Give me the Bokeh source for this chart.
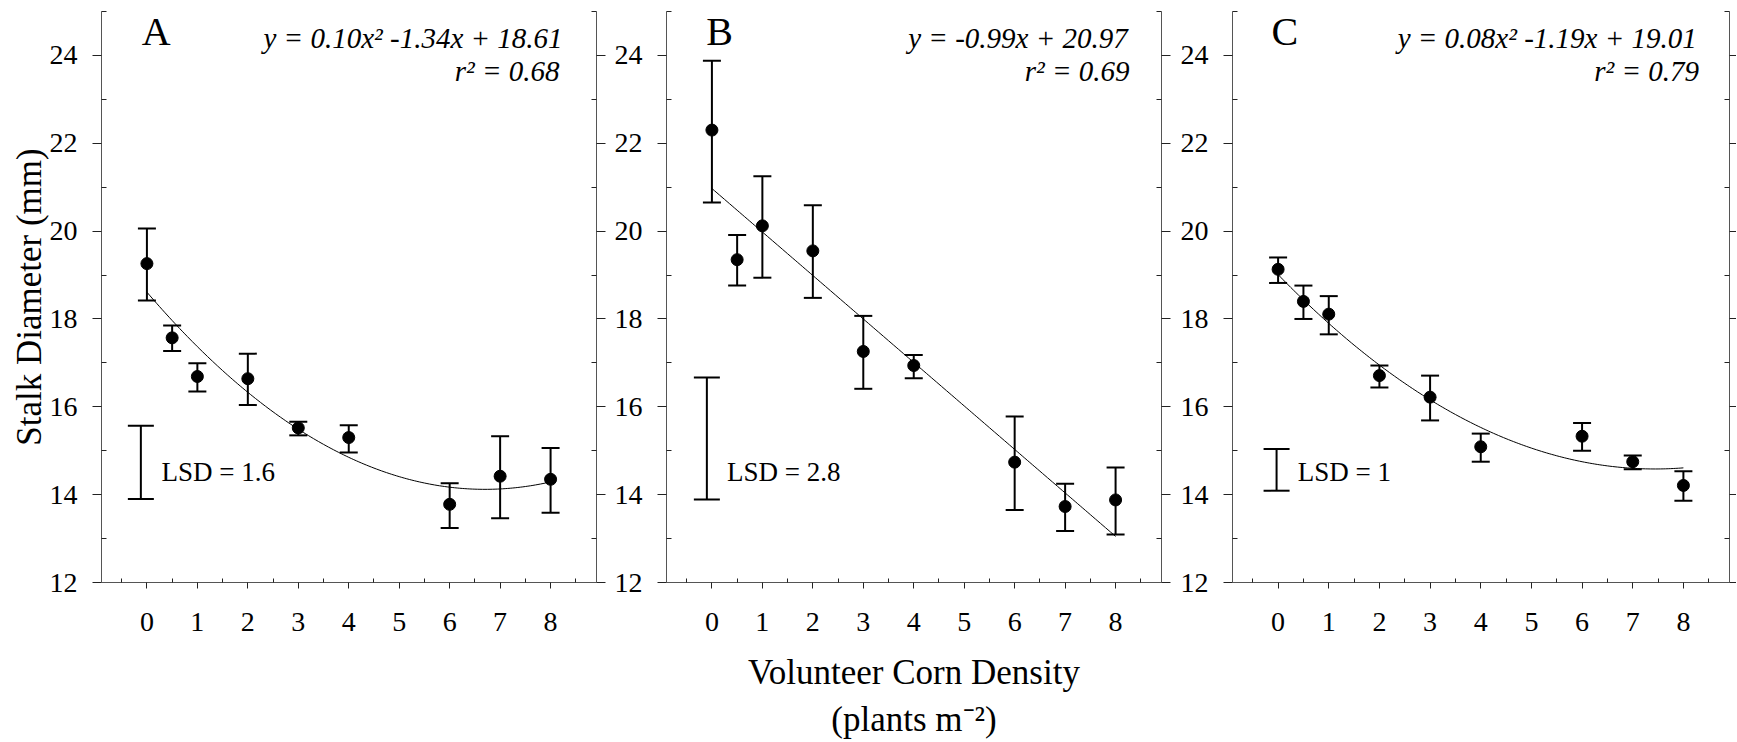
import numpy as np
from bokeh.plotting import figure
from bokeh.layouts import row
from bokeh.models import (ColumnDataSource, Whisker, TeeHead, Label, LinearAxis,
                          FixedTicker, Range1d)
from bokeh.embed import file_html
from bokeh.resources import INLINE

# ---------------- data ----------------
density = [0, 0.5, 1, 2, 3, 4, 6, 7, 8]
x_ticks = [0, 1, 2, 3, 4, 5, 6, 7, 8]
x_minor = [-0.5, 0.5, 1.5, 2.5, 3.5, 4.5, 5.5, 6.5, 7.5, 8.5]
y_ticks = [12, 14, 16, 18, 20, 22, 24]
y_minor = [13, 15, 17, 19, 21, 23, 25]

a_mean = [19.26, 17.57, 16.69, 16.64, 15.52, 15.30, 13.78, 14.42, 14.35]
a_upper = [20.06, 17.85, 16.99, 17.21, 15.66, 15.58, 14.26, 15.33, 15.06]
a_lower = [18.42, 17.27, 16.35, 16.04, 15.35, 14.96, 13.24, 13.46, 13.59]

b_mean = [22.30, 19.35, 20.12, 19.55, 17.26, 16.94, 14.74, 13.73, 13.88]
b_upper = [23.88, 19.91, 21.25, 20.59, 18.07, 17.18, 15.78, 14.25, 14.62]
b_lower = [20.65, 18.76, 18.94, 18.48, 16.41, 16.65, 13.65, 13.17, 13.09]

c_mean = [19.13, 18.40, 18.11, 16.71, 16.22, 15.09, 15.33, 14.75, 14.21]
c_upper = [19.40, 18.76, 18.52, 16.94, 16.71, 15.39, 15.63, 14.89, 14.53]
c_lower = [18.82, 18.00, 17.65, 16.44, 15.69, 14.75, 15.00, 14.58, 13.86]

# regression coefficients (x^2, x, intercept)
a_fit = [0.10, -1.34, 18.61]
b_fit = [0.00, -0.99, 20.97]
c_fit = [0.08, -1.19, 19.01]

panel_letters = ["A", "B", "C"]
equations = ["y = 0.10x\u00b2 -1.34x + 18.61", "y = -0.99x + 20.97", "y = 0.08x\u00b2 -1.19x + 19.01"]
r2_labels = ["r\u00b2 = 0.68", "r\u00b2 = 0.69", "r\u00b2 = 0.79"]
lsd_labels = ["LSD = 1.6", "LSD = 2.8", "LSD = 1"]
lsd_lower = [13.90, 13.89, 14.09]
lsd_upper = [15.57, 16.67, 15.04]
y_title = "Stalk Diameter (mm)"
x_title = "Volunteer Corn Density\n(plants m\u207b\u00b2)"

# ---------------- styling / layout ----------------
FONT = "Liberation Serif"
lsd_x = [-0.12, -0.10, -0.03]
lsd_text_x = [0.29, 0.30, 0.39]
letter_x = [-0.10, -0.11, -0.13]
eq_x = [2.31, 3.89, 2.36]
r2_x = [6.10, 6.20, 6.24]
widths = [608, 565, 563]
borders_left = [101, 58, 59]
borders_right = [12, 12, 7]
right_tick_out = [9, 9, 7]

means = [a_mean, b_mean, c_mean]
uppers = [a_upper, b_upper, c_upper]
lowers = [a_lower, b_lower, c_lower]
fits = [a_fit, b_fit, c_fit]

AXIS_COLOR = "#555555"
TICK_COLOR = "#222222"

panels = []
for i in range(3):
    p = figure(width=widths[i], height=742,
               x_range=Range1d(-0.9, 8.91), y_range=Range1d(12, 25),
               output_backend="svg", toolbar_location=None,
               min_border_left=borders_left[i], min_border_right=borders_right[i],
               min_border_top=11, min_border_bottom=158)
    p.outline_line_color = None
    p.xgrid.visible = False
    p.ygrid.visible = False
    p.background_fill_color = "white"
    p.border_fill_color = "white"

    xa = p.xaxis[0]
    xa.ticker = FixedTicker(ticks=x_ticks, minor_ticks=x_minor)
    xa.major_tick_in = 0
    xa.major_tick_out = 6
    xa.minor_tick_in = 4
    xa.minor_tick_out = 0
    xa.major_label_standoff = 24
    xa.major_label_text_font = FONT
    xa.major_label_text_font_size = "28px"
    xa.major_label_text_color = "black"
    xa.axis_line_color = AXIS_COLOR
    xa.major_tick_line_color = TICK_COLOR
    xa.minor_tick_line_color = TICK_COLOR
    if i == 1:
        xa.axis_label = x_title
        xa.axis_label_text_font = FONT
        xa.axis_label_text_font_size = "35px"
        xa.axis_label_text_font_style = "normal"
        xa.axis_label_text_color = "black"
        xa.axis_label_text_line_height = 1.22
        xa.axis_label_standoff = 19

    ya = p.yaxis[0]
    ya.ticker = FixedTicker(ticks=y_ticks, minor_ticks=y_minor)
    ya.major_tick_in = 0
    ya.major_tick_out = 9
    ya.minor_tick_in = 5
    ya.minor_tick_out = 0
    ya.major_label_standoff = 15
    ya.major_label_text_font = FONT
    ya.major_label_text_font_size = "28px"
    ya.major_label_text_color = "black"
    ya.axis_line_color = AXIS_COLOR
    ya.major_tick_line_color = TICK_COLOR
    ya.minor_tick_line_color = TICK_COLOR
    if i == 0:
        ya.axis_label = y_title
        ya.axis_label_text_font = FONT
        ya.axis_label_text_font_size = "35px"
        ya.axis_label_text_font_style = "normal"
        ya.axis_label_text_color = "black"
        ya.axis_label_standoff = -2

    ra = LinearAxis(ticker=FixedTicker(ticks=y_ticks, minor_ticks=y_minor))
    ra.major_tick_in = 0
    ra.major_tick_out = right_tick_out[i]
    ra.minor_tick_in = 5
    ra.minor_tick_out = 0
    ra.major_label_standoff = 0
    ra.major_label_text_font_size = "0px"
    ra.major_label_text_color = None
    ra.axis_line_color = AXIS_COLOR
    ra.major_tick_line_color = TICK_COLOR
    ra.minor_tick_line_color = TICK_COLOR
    p.add_layout(ra, "right")

    # regression curve from the printed coefficients
    c2, c1, c0 = fits[i]
    xs = np.linspace(0, 8, 161)
    p.line(xs, c2 * xs ** 2 + c1 * xs + c0, line_color="black", line_width=1)

    src = ColumnDataSource(dict(x=density, mean=means[i], upper=uppers[i], lower=lowers[i]))
    p.add_layout(Whisker(base="x", upper="upper", lower="lower", source=src,
                         line_color="black", line_width=2,
                         upper_head=TeeHead(size=18, line_width=2, line_color="black"),
                         lower_head=TeeHead(size=18, line_width=2, line_color="black")))
    p.scatter("x", "mean", source=src, size=12, color="black")

    # LSD bar
    lsrc = ColumnDataSource(dict(x=[lsd_x[i]], upper=[lsd_upper[i]], lower=[lsd_lower[i]]))
    p.add_layout(Whisker(base="x", upper="upper", lower="lower", source=lsrc,
                         line_color="black", line_width=2,
                         upper_head=TeeHead(size=26, line_width=2, line_color="black"),
                         lower_head=TeeHead(size=26, line_width=2, line_color="black")))
    p.add_layout(Label(x=lsd_text_x[i], y=14.51, text=lsd_labels[i], text_font=FONT,
                       text_font_size="27px", text_baseline="middle", text_align="left",
                       text_color="black"))

    p.add_layout(Label(x=letter_x[i], y=24.55, text=panel_letters[i], text_font=FONT,
                       text_font_size="40px", text_baseline="alphabetic", text_align="left",
                       text_color="black"))
    p.add_layout(Label(x=eq_x[i], y=24.39, text=equations[i], text_font=FONT,
                       text_font_size="29px", text_font_style="italic",
                       text_baseline="alphabetic", text_align="left", text_color="black"))
    p.add_layout(Label(x=r2_x[i], y=23.65, text=r2_labels[i], text_font=FONT,
                       text_font_size="29px", text_font_style="italic",
                       text_baseline="alphabetic", text_align="left", text_color="black"))
    panels.append(p)

layout = row(*panels, spacing=0)
open("out.html", "w").write(file_html(layout, INLINE))
